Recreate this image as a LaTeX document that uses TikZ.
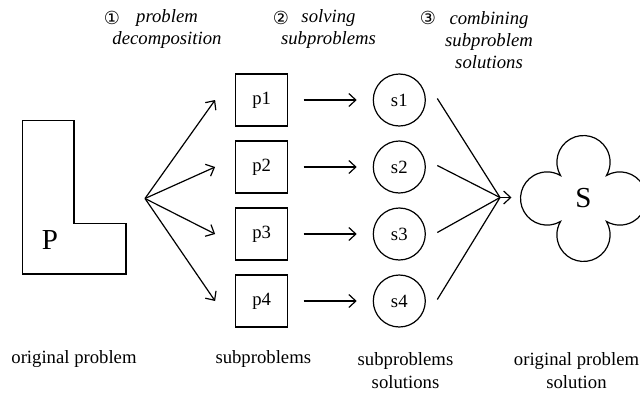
\documentclass[tikz,border=0pt]{standalone}
\usepackage{fontspec}
\setmainfont{Liberation Serif}
\newfontfamily\circfont{DejaVu Sans}
\usetikzlibrary{arrows.meta}
\begin{document}
\begin{tikzpicture}[x=1pt,y=-1pt,
  line width=1.2pt,
  every node/.style={font=\fontsize{18.7}{22.4}\selectfont, inner sep=0pt},
  arr/.style={-{Straight Barb[length=7pt,width=13pt]}},
  pbox/.style={draw, minimum width=52pt, minimum height=52pt},
  scirc/.style={draw, circle, minimum size=52pt},
  big/.style={font=\fontsize{29}{34}\selectfont},
  steplabel/.style={align=center, font=\fontsize{18.7}{22.4}\selectfont\itshape},
  numlabel/.style={font=\fontsize{18}{22}\selectfont\circfont}
]
\useasboundingbox (0,0) rectangle (640,392);

% top labels
\node[numlabel] (n1) at (112,17.5) {①};
\node[steplabel] (t1) at (167,29) {problem\\decomposition};
\node[numlabel] (n2) at (281,17.5) {②};
\node[steplabel] (t2) at (328.5,29) {solving\\subproblems};
\node[numlabel] (n3) at (428,17.5) {③};
\node[steplabel] (t3) at (489,40.2) {combining\\subproblem\\solutions};

% original problem
\draw (22.7,120.7) -- (74,120.7) -- (74,223.3) -- (126,223.3) -- (126,274) -- (22.7,274) -- cycle;
\node[big] (P) at (50,239.7) {P};
\coordinate (f) at (145,198.5);

% subproblems and solutions
\foreach \i/\y in {1/100,2/167,3/234,4/301}{
  \node[pbox] (p\i) at (261.7,\y) {p\i};
  \node[scirc] (s\i) at (399.3,\y) {s\i};
  \draw[arr] (f) -- ([xshift=-20pt]p\i.west);
  \draw[arr, shorten <=15.3pt, shorten >=16pt] (p\i) -- (s\i);
}

% combining
\coordinate (m) at (500,197.5);
\coordinate (mt) at (511.5,197.5);
\foreach \i in {1,2,3,4}{
  \draw ([xshift=11.4pt,yshift=1.5pt]s\i.east) -- (m);
}
\draw[arr] (m) -- (mt);

% solution cloud
\coordinate (c) at (583.5,198.5);
\draw (c) ++(-23,-23)
  arc[start angle=149.8, end angle=390.2, radius=26.6]
  arc[start angle=-120.2, end angle=120.2, radius=26.6]
  arc[start angle=-30.2, end angle=210.2, radius=26.6]
  arc[start angle=59.8, end angle=300.2, radius=26.6] -- cycle;
\node[big] (S) at (583.5,198.5) {S};

% bottom labels
\node (b1) at (74,359) {original problem};
\node (b2) at (263.3,359) {subproblems};
\node[align=center] (b3) at (405.5,370.5) {subproblems\\solutions};
\node[align=center] (b4) at (576.5,370.5) {original problem\\solution};
\end{tikzpicture}
\end{document}
